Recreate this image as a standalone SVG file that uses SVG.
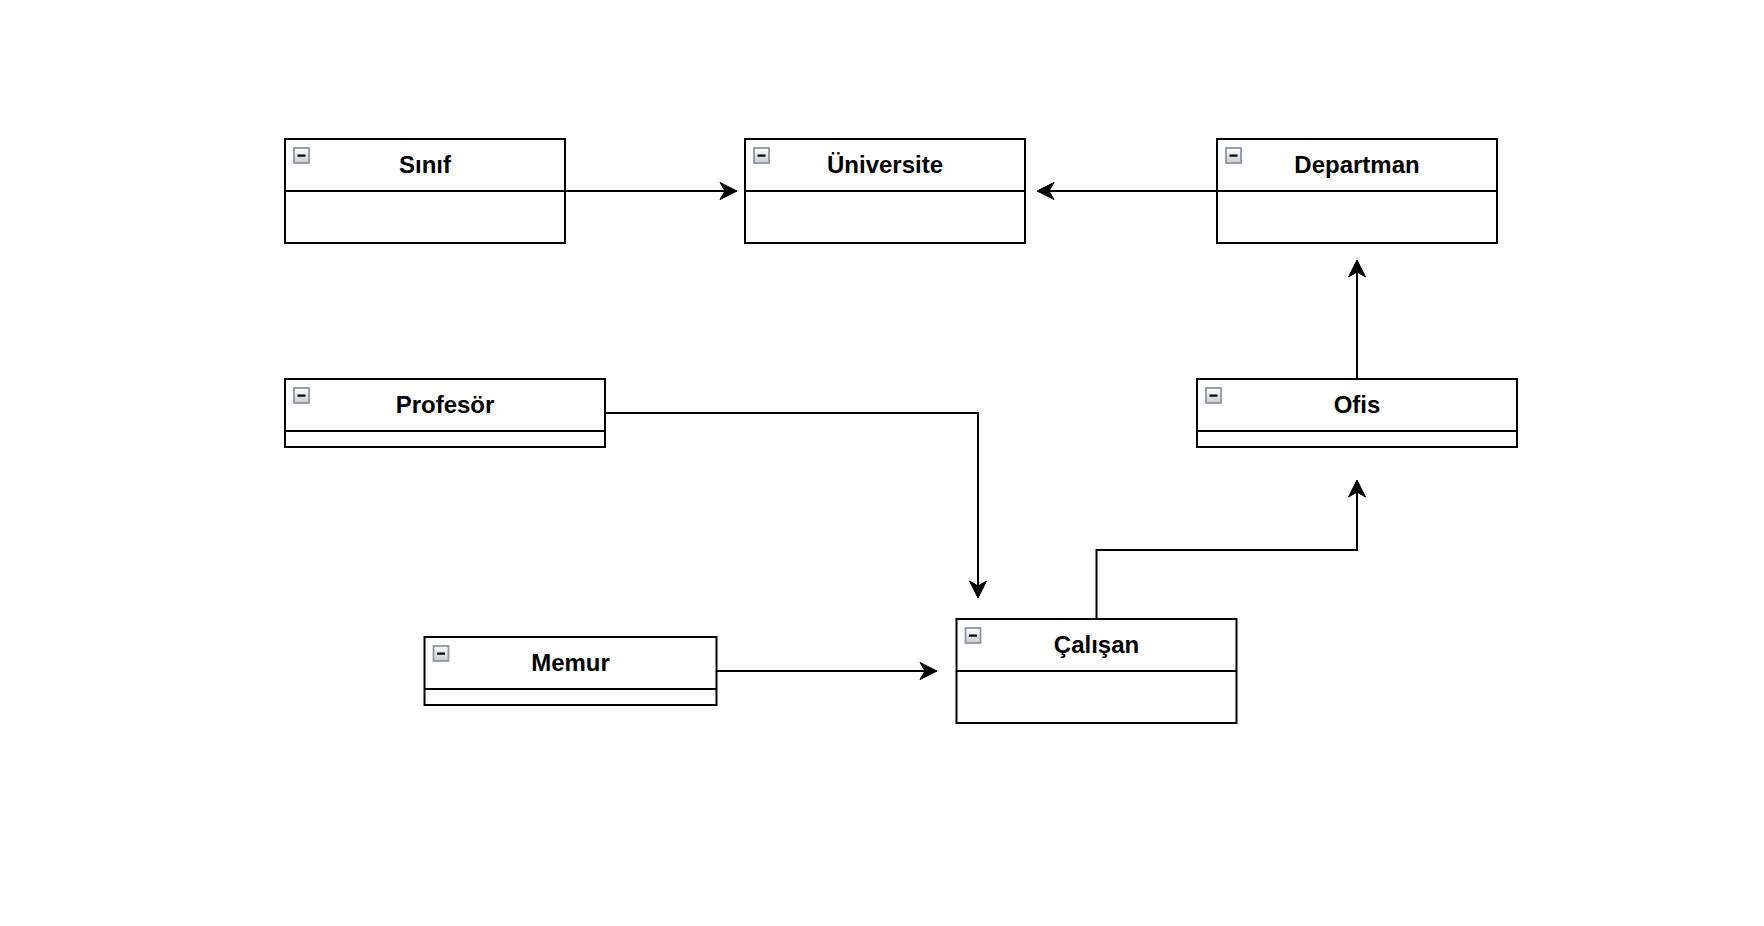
<svg xmlns="http://www.w3.org/2000/svg" xmlns:xlink="http://www.w3.org/1999/xlink" width="1764" height="926" viewBox="0 0 1764 926">
  <defs>
    <linearGradient id="iconGrad" x1="0" y1="0" x2="0" y2="1">
      <stop offset="0" stop-color="#ffffff"/>
      <stop offset="1" stop-color="#c9cbd0"/>
    </linearGradient>
    <g id="collapse">
      <rect x="0" y="0" width="15" height="15" fill="url(#iconGrad)" stroke="#8e97a6" stroke-width="1.8"/>
      <rect x="3.5" y="6.5" width="8" height="2.2" fill="#000"/>
    </g>
    <marker id="arrow" viewBox="-6 -10 20 20" refX="0" refY="0" markerWidth="20" markerHeight="20" markerUnits="userSpaceOnUse" orient="auto">
      <path d="M12,0 L-5,-8.5 L0,0 L-5,8.5 Z" fill="#000" stroke="#000" stroke-width="1" stroke-linejoin="miter"/>
    </marker>
  </defs>
  <style>
    .box { fill: #ffffff; stroke: #000000; stroke-width: 2; }
    .div { stroke: #000000; stroke-width: 2; fill: none; }
    .title { font-family: "Liberation Sans", Arial, Helvetica, sans-serif; font-weight: bold; font-size: 24px; fill: #000000; text-anchor: middle; }
    .edge { fill: none; stroke: #000000; stroke-width: 2; marker-end: url(#arrow); }
  </style>
  <rect x="0" y="0" width="1764" height="926" fill="#ffffff"/>

  <g id="edges">
    <path class="edge" d="M565,191 L725,191"/>
    <path class="edge" d="M1217,191 L1049,191"/>
    <path class="edge" d="M1357,379 L1357,272"/>
    <path class="edge" d="M605,413 L978,413 L978,586"/>
    <path class="edge" d="M716.5,671 L925,671"/>
    <path class="edge" d="M1096.5,619 L1096.5,550 L1357,550 L1357,492"/>
  </g>

  <g id="node-sinif">
    <rect class="box" x="285" y="139" width="280" height="104"/>
    <line class="div" x1="285" y1="191" x2="565" y2="191"/>
    <use xlink:href="#collapse" x="294" y="148"/>
    <text class="title" x="425" y="172.5">Sınıf</text>
  </g>

  <g id="node-universite">
    <rect class="box" x="745" y="139" width="280" height="104"/>
    <line class="div" x1="745" y1="191" x2="1025" y2="191"/>
    <use xlink:href="#collapse" x="754" y="148"/>
    <text class="title" x="885" y="172.5">Üniversite</text>
  </g>

  <g id="node-departman">
    <rect class="box" x="1217" y="139" width="280" height="104"/>
    <line class="div" x1="1217" y1="191" x2="1497" y2="191"/>
    <use xlink:href="#collapse" x="1226" y="148"/>
    <text class="title" x="1357" y="172.5">Departman</text>
  </g>

  <g id="node-profesor">
    <rect class="box" x="285" y="379" width="320" height="68"/>
    <line class="div" x1="285" y1="431" x2="605" y2="431"/>
    <use xlink:href="#collapse" x="294" y="388"/>
    <text class="title" x="445" y="412.5">Profesör</text>
  </g>

  <g id="node-ofis">
    <rect class="box" x="1197" y="379" width="320" height="68"/>
    <line class="div" x1="1197" y1="431" x2="1517" y2="431"/>
    <use xlink:href="#collapse" x="1206" y="388"/>
    <text class="title" x="1357" y="412.5">Ofis</text>
  </g>

  <g id="node-memur">
    <rect class="box" x="424.5" y="637" width="292" height="68"/>
    <line class="div" x1="424.5" y1="689" x2="716.5" y2="689"/>
    <use xlink:href="#collapse" x="433.5" y="646"/>
    <text class="title" x="570.5" y="670.5">Memur</text>
  </g>

  <g id="node-calisan">
    <rect class="box" x="956.5" y="619" width="280" height="104"/>
    <line class="div" x1="956.5" y1="671" x2="1236.5" y2="671"/>
    <use xlink:href="#collapse" x="965.5" y="628"/>
    <text class="title" x="1096.5" y="652.5">Çalışan</text>
  </g>
</svg>
